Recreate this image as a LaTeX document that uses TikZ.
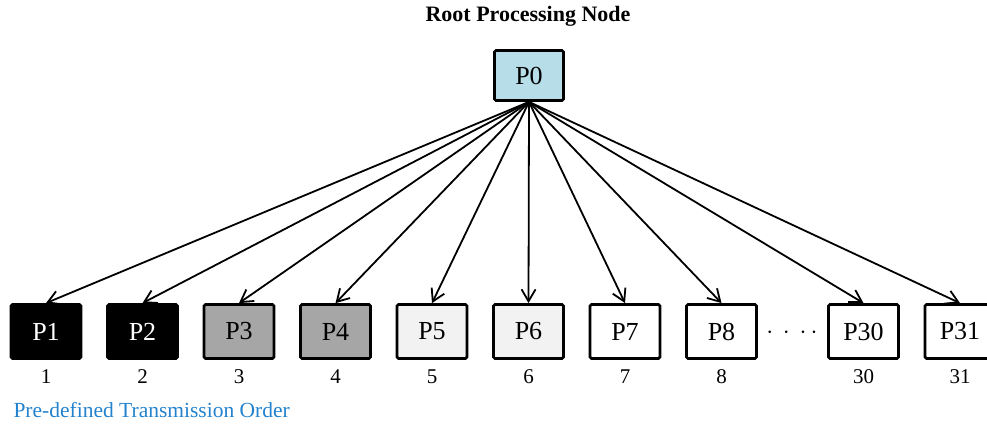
\documentclass[tikz,border=0pt]{standalone}
\usepackage{fontspec}
\setmainfont{Liberation Serif}
\usetikzlibrary{arrows.meta,positioning}
\definecolor{rootblue}{RGB}{183,221,232}
\definecolor{midgray}{RGB}{166,166,166}
\definecolor{palegray}{RGB}{242,242,242}
\definecolor{orderblue}{RGB}{35,130,205}
\tikzset{proc/.style={draw=black,line width=2.8pt,rounded corners=1.5pt,
  minimum width=70pt,minimum height=54pt,inner sep=0pt,
  font=\fontsize{26}{26}\selectfont},
  rank/.style={font=\fontsize{21}{21}\selectfont,below=6pt of #1},
  arrow/.style={-{Straight Barb[length=12pt,width=14pt]},line width=1.8pt}}

\begin{document}
\begin{tikzpicture}[x=1pt,y=-1pt,node distance=0pt and 23.7pt]
\useasboundingbox (0,0) rectangle (987,423);
\node[font=\bfseries\fontsize{22}{22}\selectfont] (title) at (528,16) {Root Processing Node};
\node[proc,fill=rootblue,minimum width=69pt,minimum height=50pt] (p0) at (529,75.5) {P0};
\node[proc,fill=black,text=white] (p1) at (46,331.5) {P1};
\node[proc,fill=black,text=white,right=of p1] (p2) {P2};
\node[proc,fill=midgray,right=of p2] (p3) {P3};
\node[proc,fill=midgray,right=of p3] (p4) {P4};
\node[proc,fill=palegray,right=of p4] (p5) {P5};
\node[proc,fill=palegray,right=of p5] (p6) {P6};
\node[proc,fill=white,right=of p6] (p7) {P7};
\node[proc,fill=white,right=of p7] (p8) {P8};
\node[proc,fill=white,right=69.2pt of p8] (p30) {P30};
\node[proc,fill=white,right=of p30] (p31) {P31};
\node[font=\fontsize{26}{26}\selectfont] (dots) at (792,333) {$\cdot\,\cdot\,\cdot\,\cdot$};
% transmission order
\foreach \k in {1,2,3,4,5,6,7,8,30,31}
  \node[rank=p\k] (n\k) {\k};
\node[anchor=west,text=orderblue,font=\fontsize{21.5}{21.5}\selectfont] (order) at (10,410) {Pre-defined Transmission Order};
\foreach \k in {1,2,3,4,5,6,7,8,30,31}
  \draw[arrow] (p0.south) -- (p\k.north);
\end{tikzpicture}
\end{document}
